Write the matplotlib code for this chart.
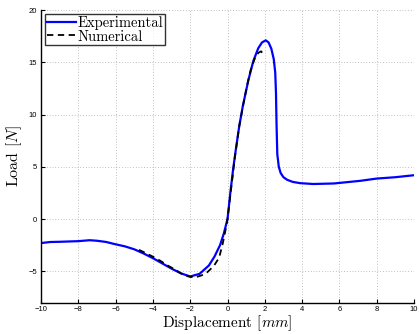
import matplotlib
matplotlib.use("Agg")
import matplotlib.pyplot as plt

# --- dados ---
exp_x = [-10, -9.5, -9, -8, -7.4, -7.0, -6.5, -6.1, -5.5, -5.0, -4.5, -4.0, -3.5,
         -3.0, -2.5, -2.0, -1.5, -1.0, -0.7, -0.4, -0.2, 0.0, 0.15, 0.31, 0.45,
         0.63, 0.82, 1.12, 1.38, 1.65, 1.85, 2.05, 2.2, 2.35, 2.48, 2.56, 2.6,
         2.63, 2.67, 2.75, 2.85, 3.0, 3.2, 3.5, 3.9, 4.6, 5.7, 7.1, 8.0, 9.0, 10.0]
exp_y = [-2.3, -2.2, -2.18, -2.12, -2.03, -2.08, -2.2, -2.38, -2.62, -2.9, -3.3,
         -3.75, -4.25, -4.75, -5.2, -5.5, -5.25, -4.45, -3.6, -2.5, -1.4, 0.0,
         2.5, 4.9, 6.7, 8.9, 10.8, 13.3, 15.1, 16.35, 16.9, 17.1, 16.9, 16.3,
         15.3, 14.0, 12.0, 9.0, 6.2, 5.0, 4.4, 4.0, 3.75, 3.55, 3.43, 3.35,
         3.4, 3.65, 3.87, 4.0, 4.19]

num_x = [-4.75, -4.4, -4.06, -3.6, -3.26, -2.8, -2.5, -2.1, -1.75, -1.4, -1.15,
         -0.94, -0.7, -0.45, -0.25, -0.1, 0.0, 0.2, 0.4, 0.62, 0.85, 1.05, 1.25,
         1.47, 1.65, 1.8, 1.96]
num_y = [-2.95, -3.25, -3.55, -4.0, -4.4, -4.85, -5.2, -5.5, -5.6, -5.4, -5.2,
         -4.85, -4.4, -3.7, -2.3, -1.0, 0.0, 3.0, 6.0, 8.8, 11.0, 12.8, 14.3,
         15.4, 15.9, 16.05, 15.7]

x_ticks = [-10, -8, -6, -4, -2, 0, 2, 4, 6, 8, 10]
y_ticks = [-5, 0, 5, 10, 15, 20]

plt.rcParams["mathtext.fontset"] = "cm"
plt.rcParams["axes.unicode_minus"] = True

fig = plt.figure(figsize=(4.19, 3.34), dpi=100)
ax = fig.add_axes([0.098, 0.094, 0.89, 0.876])

ax.plot(exp_x, exp_y, color="#0000ff", linewidth=1.6, label="Experimental")
ax.plot(num_x, num_y, color="black", linewidth=1.3, linestyle=(0, (3.5, 2.5)),
        label="Numerical")

ax.set_xlim(-10, 10)
ax.set_ylim(-8, 20)
ax.set_xticks(x_ticks)
ax.set_yticks(y_ticks)
ax.tick_params(direction="in", length=3, width=0.8, labelsize=5.5, pad=3)
ax.tick_params(axis="x", pad=2.5)
for lbl in ax.get_xticklabels() + ax.get_yticklabels():
    lbl.set_family("Liberation Sans")

ax.grid(True, linestyle=(0, (1, 3)), color="#888888", linewidth=0.5)
ax.spines["top"].set_visible(False)
ax.spines["right"].set_visible(False)
ax.spines["left"].set_linewidth(1.0)
ax.spines["bottom"].set_linewidth(1.0)

ax.set_xlabel(r"Displacement $[mm]$", fontfamily="cmr10", fontsize=11, labelpad=0.5)
ax.set_ylabel(r"Load $[N]$", fontfamily="cmr10", fontsize=11.5, labelpad=3)

leg = ax.legend(loc="upper left", prop={"family": "cmr10", "size": 10.5},
                frameon=True, fancybox=False, borderpad=0.1, labelspacing=0.0,
                handlelength=2.0, handletextpad=0.1, borderaxespad=0.3)
leg.get_frame().set_edgecolor("black")
leg.get_frame().set_linewidth(1.0)

fig.savefig("out.png", dpi=100)
